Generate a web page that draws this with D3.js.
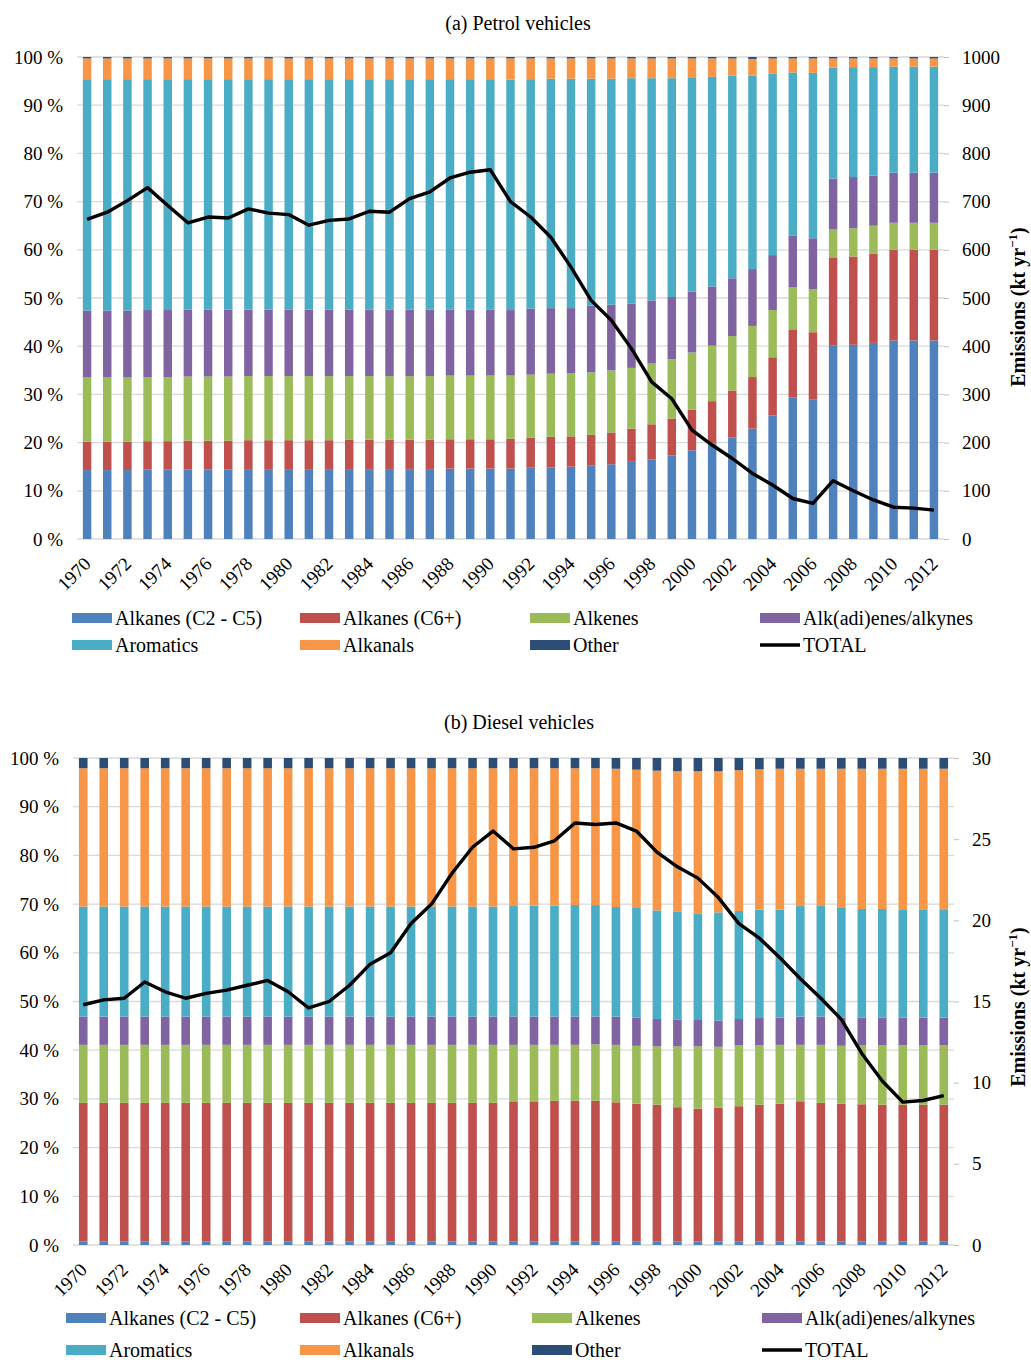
<!DOCTYPE html>
<html>
<head>
<meta charset="utf-8">
<script src="https://cdn.jsdelivr.net/npm/d3@7"></script>
<style>
  body { margin: 0; background: #fff; }
  text { font-family: "Liberation Serif", "Times New Roman", serif; fill: #000; }
</style>
</head>
<body>
<script>
// ---- data ----
var years = d3.range(1970, 2013);

var categories = ["Alkanes (C2 - C5)", "Alkanes (C6+)", "Alkenes", "Alk(adi)enes/alkynes",
                  "Aromatics", "Alkanals", "Other"];
var colors = ["#4F81BD", "#C0504D", "#9BBB59", "#8064A2", "#4BACC6", "#F79646", "#2C4D75"];

var pctTicks = [0, 10, 20, 30, 40, 50, 60, 70, 80, 90, 100];
var petrolTicks = [0, 100, 200, 300, 400, 500, 600, 700, 800, 900, 1000];
var dieselTicks = [0, 5, 10, 15, 20, 25, 30];

// petrol shares (%)
var petrolAlkC2C5 = [14.3,14.3,14.3,14.4,14.4,14.4,14.4,14.4,14.5,14.5,14.5,14.5,14.5,14.5,14.5,14.5,14.5,14.5,14.6,14.6,14.6,
                     14.6,14.8,14.8,15.0,15.2,15.5,16.0,16.5,17.3,18.4,19.8,21.1,22.9,25.6,29.4,28.9,40.1,40.3,40.7,41.2,41.2,41.2];
var petrolAlkC6 = [5.9,5.9,5.9,5.9,5.9,6.0,6.0,6.0,6.0,6.0,6.0,6.0,6.0,6.1,6.1,6.1,6.1,6.1,6.1,6.1,6.1,
                   6.2,6.2,6.4,6.3,6.4,6.6,6.9,7.3,7.7,8.4,8.8,9.7,10.7,12.1,14.1,14.0,18.2,18.3,18.5,18.8,18.8,18.8];
var petrolAlkenes = [13.3,13.3,13.3,13.3,13.3,13.3,13.3,13.3,13.3,13.3,13.3,13.3,13.3,13.2,13.2,13.2,13.2,13.2,13.2,13.2,13.2,
                     13.1,13.1,13.1,13.1,13.0,12.9,12.6,12.6,12.3,11.9,11.5,11.3,10.6,9.8,8.7,8.9,5.9,5.9,5.8,5.6,5.6,5.6];
var petrolAlkadienes = [13.9,13.9,13.9,13.9,13.9,13.9,13.9,13.9,13.8,13.8,13.8,13.8,13.8,13.8,13.8,13.8,13.8,13.8,13.7,13.7,13.7,
                        13.6,13.7,13.6,13.5,13.8,13.6,13.3,13.1,12.9,12.6,12.3,12.0,11.8,11.4,10.8,10.6,10.6,10.6,10.4,10.4,10.4,10.4];
var petrolAromatics = [48.0,48.0,48.0,47.9,47.9,47.8,47.8,47.8,47.8,47.8,47.8,47.8,47.8,47.8,47.8,47.8,47.8,47.8,47.8,47.8,47.8,
                       47.8,47.6,47.6,47.6,47.1,46.9,46.8,46.1,45.4,44.5,43.5,42.0,40.1,37.6,33.8,34.3,23.0,22.8,22.5,22.0,22.0,22.0];
var petrolAlkanals = [4.3,4.3,4.3,4.3,4.3,4.3,4.3,4.3,4.3,4.3,4.3,4.3,4.3,4.3,4.3,4.3,4.3,4.3,4.3,4.3,4.3,
                      4.4,4.3,4.2,4.2,4.2,4.2,4.1,4.1,4.1,3.9,3.8,3.6,3.5,3.2,2.9,3.0,1.9,1.8,1.8,1.7,1.7,1.7];
var petrolOther = [0.3,0.3,0.3,0.3,0.3,0.3,0.3,0.3,0.3,0.3,0.3,0.3,0.3,0.3,0.3,0.3,0.3,0.3,0.3,0.3,0.3,
                   0.3,0.3,0.3,0.3,0.3,0.3,0.3,0.3,0.3,0.3,0.3,0.3,0.4,0.3,0.3,0.3,0.3,0.3,0.3,0.3,0.3,0.3];
// petrol total (kt/yr)
var petrolTotal = [663,678,702,729,692,656,668,666,685,676,673,651,661,664,680,678,706,720,749,761,766,
                   700,668,626,564,495,454,395,326,291,226,195,167,136,112,84,74,121,100,81,66,64,60];

// diesel shares (%)
var dieselAlkC2C5 = [0.7,0.7,0.7,0.7,0.7,0.7,0.7,0.7,0.7,0.7,0.7,0.7,0.7,0.7,0.7,0.7,0.7,0.7,0.7,0.7,0.7,
                     0.7,0.7,0.7,0.7,0.7,0.7,0.7,0.7,0.7,0.7,0.7,0.7,0.7,0.7,0.7,0.7,0.7,0.7,0.7,0.7,0.7,0.7];
var dieselAlkC6 = [28.5,28.5,28.5,28.5,28.5,28.5,28.5,28.5,28.5,28.5,28.5,28.5,28.5,28.5,28.5,28.5,28.5,28.5,28.5,28.5,28.5,
                   28.8,28.8,28.9,28.9,28.9,28.6,28.3,28.1,27.6,27.3,27.5,27.8,28.1,28.3,28.8,28.5,28.3,28.2,28.1,28.1,28.1,28.1];
var dieselAlkenes = [11.9,11.9,11.9,11.9,11.9,11.9,11.9,11.9,11.9,11.9,11.9,11.9,11.9,11.9,11.9,11.9,11.9,11.9,11.9,11.9,11.9,
                     11.6,11.6,11.5,11.5,11.6,11.8,11.9,12.0,12.5,12.8,12.5,12.5,12.2,12.1,11.6,11.9,11.9,12.1,12.2,12.2,12.2,12.2];
var dieselAlkadienes = [5.8,5.8,5.8,5.8,5.8,5.8,5.8,5.8,5.8,5.8,5.8,5.8,5.8,5.8,5.8,5.8,5.8,5.8,5.8,5.8,5.8,
                        5.8,5.8,5.8,5.8,5.7,5.8,5.8,5.6,5.5,5.4,5.4,5.4,5.6,5.6,5.8,5.8,5.8,5.7,5.7,5.7,5.7,5.7];
var dieselAromatics = [22.6,22.6,22.6,22.6,22.6,22.6,22.6,22.6,22.6,22.6,22.6,22.6,22.6,22.6,22.6,22.6,22.6,22.6,22.6,22.6,22.6,
                       22.7,22.8,22.8,22.9,22.9,22.5,22.5,22.3,22.1,21.9,22.2,22.2,22.3,22.2,22.7,22.7,22.5,22.3,22.3,22.1,22.1,22.1];
var dieselAlkanals = [28.4,28.4,28.4,28.4,28.4,28.4,28.4,28.4,28.4,28.4,28.4,28.4,28.4,28.4,28.4,28.4,28.4,28.4,28.4,28.4,28.4,
                      28.3,28.2,28.2,28.1,28.1,28.4,28.4,28.7,28.9,29.2,29.0,28.9,28.8,28.9,28.2,28.2,28.6,28.8,28.8,29.0,29.0,29.0];
var dieselOther = [2.1,2.1,2.1,2.1,2.1,2.1,2.1,2.1,2.1,2.1,2.1,2.1,2.1,2.1,2.1,2.1,2.1,2.1,2.1,2.1,2.1,
                   2.1,2.1,2.1,2.1,2.1,2.2,2.4,2.6,2.7,2.7,2.7,2.5,2.3,2.2,2.2,2.2,2.2,2.2,2.2,2.2,2.2,2.2];
// diesel total (kt/yr)
var dieselTotal = [14.8,15.1,15.2,16.2,15.6,15.2,15.5,15.7,16.0,16.3,15.6,14.6,15.0,16.0,17.3,18.0,19.8,21.0,22.9,24.5,25.5,
                   24.4,24.5,24.9,26.0,25.9,26.0,25.5,24.2,23.3,22.6,21.4,19.8,18.9,17.7,16.4,15.2,13.9,11.8,10.1,8.8,8.9,9.2];

// ---- drawing ----
var svg = d3.select("body").append("svg")
    .attr("width", 1031)
    .attr("height", 1360);

function drawPanel(p) {
    var g = svg.append("g");
    var keys = categories.map(function(c, i) { return "k" + i; });

    var rows = years.map(function(yr, i) {
        var r = { year: yr, total: p.total[i] };
        p.shares.forEach(function(s, k) { r["k" + k] = s[i]; });
        return r;
    });

    var x = d3.scaleBand()
        .domain(years)
        .range([p.left, p.right])
        .paddingInner(0.58)
        .paddingOuter(0.29);

    var y = d3.scaleLinear().domain([0, 1]).range([p.bottom, p.top]);
    var y2 = d3.scaleLinear().domain([0, p.totalMax]).range([p.bottom, p.top]);

    // gridlines
    g.append("g").selectAll("line")
        .data(pctTicks)
        .enter().append("line")
        .attr("x1", p.left).attr("x2", p.right)
        .attr("y1", function(d) { return y(d / 100); })
        .attr("y2", function(d) { return y(d / 100); })
        .style("stroke", "#D9D9D9")
        .style("stroke-width", 1.3);

    // stacked bars
    var series = d3.stack().keys(keys).offset(d3.stackOffsetExpand)(rows);
    g.append("g").selectAll("g")
        .data(series)
        .enter().append("g")
        .style("fill", function(d, i) { return colors[i]; })
        .selectAll("rect")
        .data(function(d) { return d; })
        .enter().append("rect")
        .attr("x", function(d) { return x(d.data.year); })
        .attr("width", x.bandwidth())
        .attr("y", function(d) { return y(d[1]); })
        .attr("height", function(d) { return y(d[0]) - y(d[1]); });

    // left axis
    var left = g.append("g")
        .attr("transform", "translate(" + p.left + ",0)")
        .call(d3.axisLeft(y)
            .tickValues(pctTicks.map(function(d) { return d / 100; }))
            .tickFormat(function(d) { return Math.round(d * 100) + " %"; })
            .tickSize(0)
            .tickPadding(14));
    left.select(".domain").remove();
    left.selectAll("text").style("font-size", "19px").style("font-family", null);

    // right axis
    var right = g.append("g")
        .attr("transform", "translate(" + p.right + ",0)")
        .call(d3.axisRight(y2)
            .tickValues(p.totalTicks)
            .tickFormat(d3.format("d"))
            .tickSize(5)
            .tickPadding(p.rightPad));
    right.select(".domain").remove();
    right.selectAll("line").style("stroke", "#BFBFBF");
    right.selectAll("text").style("font-size", "19px").style("font-family", null);

    // bottom axis
    var bottom = g.append("g")
        .attr("transform", "translate(0," + p.bottom + ")")
        .call(d3.axisBottom(x)
            .tickValues(years.filter(function(d) { return (d - 1970) % 2 === 0; }))
            .tickSize(0));
    bottom.select(".domain").remove();
    bottom.selectAll("text")
        .style("font-size", "19px")
        .style("font-family", null)
        .attr("text-anchor", "end")
        .attr("y", 0).attr("dy", 0)
        .attr("transform", "translate(5,26) rotate(-45)");

    // total line
    var line = d3.line()
        .x(function(d) { return x(d.year) + x.bandwidth() / 2; })
        .y(function(d) { return y2(d.total); });
    g.append("path")
        .datum(rows)
        .attr("d", line)
        .style("fill", "none")
        .style("stroke", "#000")
        .style("stroke-width", 3.4)
        .style("stroke-linejoin", "round");

    // title
    g.append("text")
        .attr("x", p.titleX).attr("y", p.titleY)
        .attr("text-anchor", "middle")
        .style("font-size", "20px")
        .text(p.title);

    // right axis title
    var at = g.append("text")
        .attr("transform", "translate(1025," + p.axisTitleY + ") rotate(-90)")
        .attr("text-anchor", "middle")
        .style("font-size", "20px")
        .style("font-weight", "bold");
    at.append("tspan").text("Emissions (kt yr");
    at.append("tspan").attr("dy", -8).style("font-size", "13px").text("\u22121");
    at.append("tspan").attr("dy", 8).text(")");

    // legend
    var items = categories.concat(["TOTAL"]);
    var leg = g.append("g").selectAll("g")
        .data(items)
        .enter().append("g")
        .attr("transform", function(d, i) {
            return "translate(" + p.legendX[i % 4] + "," + p.legendY[Math.floor(i / 4)] + ")";
        });
    leg.each(function(d, i) {
        var s = d3.select(this);
        if (d === "TOTAL") {
            s.append("line").attr("x1", 0).attr("x2", 40).attr("y1", 0).attr("y2", 0)
                .style("stroke", "#000").style("stroke-width", 3.5);
        } else {
            s.append("rect").attr("x", 0).attr("y", -5).attr("width", 40).attr("height", 10)
                .style("fill", colors[i]);
        }
        s.append("text").attr("x", 43).attr("y", 7)
            .style("font-size", "20px")
            .text(d);
    });
}

drawPanel({
    title: "(a) Petrol vehicles", titleX: 518, titleY: 30,
    left: 77, right: 944, top: 57, bottom: 539,
    shares: [petrolAlkC2C5, petrolAlkC6, petrolAlkenes, petrolAlkadienes, petrolAromatics, petrolAlkanals, petrolOther],
    total: petrolTotal, totalMax: 1000, totalTicks: petrolTicks, rightPad: 13,
    axisTitleY: 307,
    legendX: [72, 300, 530, 760], legendY: [618, 645]
});

drawPanel({
    title: "(b) Diesel vehicles", titleX: 519, titleY: 729,
    left: 73, right: 954, top: 758, bottom: 1245,
    shares: [dieselAlkC2C5, dieselAlkC6, dieselAlkenes, dieselAlkadienes, dieselAromatics, dieselAlkanals, dieselOther],
    total: dieselTotal, totalMax: 30, totalTicks: dieselTicks, rightPad: 13,
    axisTitleY: 1007,
    legendX: [66, 300, 532, 762], legendY: [1318, 1350]
});
</script>
</body>
</html>
